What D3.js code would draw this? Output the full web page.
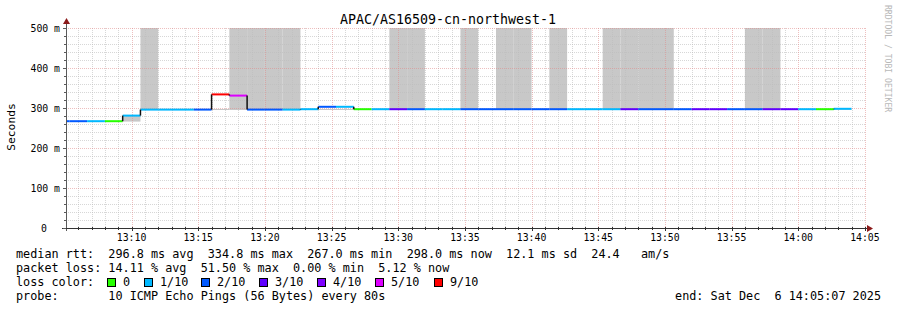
<!DOCTYPE html>
<html>
<head>
<meta charset="utf-8">
<script src="https://cdn.jsdelivr.net/npm/d3@7"></script>
<style>
  html, body { margin: 0; padding: 0; background: #fff; }
  svg text { font-family: "DejaVu Sans Mono", monospace; white-space: pre; }
</style>
</head>
<body>
<svg id="chart" width="897" height="310"></svg>
<script>
// chart data
const chartTitle = 'APAC/AS16509-cn-northwest-1';
const firstStep = '2025-12-06T13:04:00';
const stepSeconds = 80;

const medianMs = [
  267, 267, 267, 267, 281, 296, 296, 296, 296, 334, 331, 296, 296, 296, 297,
  303, 303, 297, 297, 297, 297, 297, 297, 297, 297, 297, 297, 297, 297, 297,
  297, 297, 297, 297, 297, 297, 297, 297, 297, 297, 297, 297, 297, 297, 298
];
const lossTenths = [
  2, 2, 1, 0, 1, 1, 1, 1, 2, 9, 5, 2, 2, 1, 1,
  2, 1, 0, 1, 3, 2, 1, 1, 2, 2, 2, 2, 2, 2, 1,
  1, 1, 3, 2, 2, 2, 3, 3, 2, 2, 3, 3, 1, 0, 1
];
const smokeLowMs = [
  266, 266, 266, 266, 266, 295, 295, 295, 295, 295, 295, 295, 295, 295, 295,
  295, 295, 295, 295, 295, 295, 295, 295, 295, 295, 295, 295, 295, 295, 295,
  295, 295, 295, 295, 295, 295, 295, 295, 295, 295, 295, 295, 295, 295, 295
];
const smokeHighMs = [
  267, 267, 267, 267, 281, 600, 297, 297, 297, 297.5, 600, 600, 600, 600, 297,
  297.5, 297.5, 297, 297, 600, 600, 297, 297, 600, 297, 600, 600, 297, 600, 297,
  297, 600, 600, 600, 600, 297, 297, 297, 297, 600, 600, 297, 297, 297, 297
];

const yTickValues = [0, 100, 200, 300, 400, 500];
const yTickLabels = ['0', '100 m', '200 m', '300 m', '400 m', '500 m'];
const xTickLabels = ['13:10', '13:15', '13:20', '13:25', '13:30', '13:35',
  '13:40', '13:45', '13:50', '13:55', '14:00', '14:05'];

const lossLevels = [0, 1, 2, 3, 4, 5, 9];
const lossLabels = ['0', '1/10', '2/10', '3/10', '4/10', '5/10', '9/10'];
const lossColors = ['#26ff00', '#00b8ff', '#0059ff', '#5e00ff', '#7e00ff', '#dd00ff', '#ff0000'];

const statLines = [
  'median rtt:  296.8 ms avg  334.8 ms max  267.0 ms min  298.0 ms now  12.1 ms sd  24.4   am/s',
  'packet loss: 14.11 % avg  51.50 % max  0.00 % min  5.12 % now',
  'loss color:',
  'probe:       10 ICMP Echo Pings (56 Bytes) every 80s'
];
const endLabel = 'end: Sat Dec  6 14:05:07 2025';

// layout
const width = 897, height = 310;
const plotLeft = 66, plotRight = 866, plotTop = 28, plotBottom = 228;

const svg = d3.select('#chart');

const x = d3.scaleTime()
  .domain([new Date('2025-12-06T13:05:05'), new Date('2025-12-06T14:05:05')])
  .range([plotLeft, plotRight]);
const y = d3.scaleLinear().domain([0, 500]).range([plotBottom, plotTop]);

const t0 = new Date(firstStep).getTime();
const steps = medianMs.map((m, i) => ({
  start: new Date(t0 + i * stepSeconds * 1000),
  end: new Date(t0 + (i + 1) * stepSeconds * 1000),
  median: m,
  loss: lossTenths[i],
  lo: smokeLowMs[i],
  hi: smokeHighMs[i]
}));

const lossColor = d3.scaleOrdinal().domain(lossLevels).range(lossColors);

svg.append('defs').append('clipPath').attr('id', 'plot')
  .append('rect')
  .attr('x', plotLeft).attr('y', plotTop)
  .attr('width', plotRight - plotLeft).attr('height', plotBottom - plotTop);

// Smoke
svg.append('g').attr('clip-path', 'url(#plot)')
  .selectAll('rect')
  .data(steps)
  .join('rect')
  .attr('x', d => x(d.start))
  .attr('width', d => x(d.end) - x(d.start))
  .attr('y', d => y(d.hi))
  .attr('height', d => y(d.lo) - y(d.hi))
  .attr('fill', '#c8c8c8');

// Grid
const grid = svg.append('g');
const minuteTicks = x.ticks(d3.timeMinute.every(1));
const isMajorTime = d => d.getMinutes() % 5 === 0;
const minorStroke = '#bdbdbd', minorOpacity = 0.6;
const majorStroke = '#e08a8a', majorOpacity = 0.55;

grid.selectAll('.vminor')
  .data(minuteTicks.filter(d => !isMajorTime(d)))
  .join('line')
  .attr('x1', d => Math.round(x(d)) + 0.5).attr('x2', d => Math.round(x(d)) + 0.5)
  .attr('y1', plotTop).attr('y2', plotBottom)
  .attr('stroke', minorStroke).attr('stroke-opacity', minorOpacity)
  .attr('stroke-dasharray', '1,1');

const yMinor = d3.range(20, 501, 20).filter(v => v % 100 !== 0);
grid.selectAll('.hminor')
  .data(yMinor)
  .join('line')
  .attr('x1', plotLeft).attr('x2', plotRight)
  .attr('y1', d => Math.round(y(d)) + 0.5).attr('y2', d => Math.round(y(d)) + 0.5)
  .attr('stroke', minorStroke).attr('stroke-opacity', minorOpacity)
  .attr('stroke-dasharray', '1,1');

grid.selectAll('.vmajor')
  .data(minuteTicks.filter(isMajorTime))
  .join('line')
  .attr('x1', d => Math.round(x(d)) + 0.5).attr('x2', d => Math.round(x(d)) + 0.5)
  .attr('y1', plotTop).attr('y2', plotBottom)
  .attr('stroke', majorStroke).attr('stroke-opacity', majorOpacity)
  .attr('stroke-dasharray', '1,1');

grid.selectAll('.hmajor')
  .data(yTickValues.filter(v => v > 0))
  .join('line')
  .attr('x1', plotLeft).attr('x2', plotRight)
  .attr('y1', d => Math.round(y(d)) + 0.5).attr('y2', d => Math.round(y(d)) + 0.5)
  .attr('stroke', majorStroke).attr('stroke-opacity', majorOpacity)
  .attr('stroke-dasharray', '1,1');

// Median line
const lines = svg.append('g').attr('clip-path', 'url(#plot)');
lines.selectAll('.step')
  .data(steps)
  .join('line')
  .attr('x1', d => x(d.start)).attr('x2', d => x(d.end))
  .attr('y1', d => y(d.median)).attr('y2', d => y(d.median))
  .attr('stroke', d => lossColor(d.loss))
  .attr('stroke-width', 2);

const jumps = [];
steps.forEach((d, i) => {
  if (i > 0 && d.median !== steps[i - 1].median) {
    jumps.push({ t: d.start, a: steps[i - 1].median, b: d.median });
  }
});
lines.selectAll('.jump')
  .data(jumps)
  .join('line')
  .attr('x1', d => x(d.t)).attr('x2', d => x(d.t))
  .attr('y1', d => y(d.a)).attr('y2', d => y(d.b))
  .attr('stroke', '#111')
  .attr('stroke-width', 1.5);

// Axes
const axes = svg.append('g');
axes.append('line')
  .attr('x1', plotLeft + 0.5).attr('x2', plotLeft + 0.5)
  .attr('y1', plotBottom + 3).attr('y2', plotTop - 6)
  .attr('stroke', '#5a5a5a');
axes.append('line')
  .attr('x1', plotLeft - 4).attr('x2', plotRight + 2)
  .attr('y1', plotBottom + 0.5).attr('y2', plotBottom + 0.5)
  .attr('stroke', '#333');
axes.append('path')
  .attr('d', `M${plotLeft - 3},${plotTop - 4} L${plotLeft + 4},${plotTop - 4} L${plotLeft + 0.5},${plotTop - 10} Z`)
  .attr('fill', '#8b1a1a');
axes.append('path')
  .attr('d', `M${plotRight + 1},${plotBottom - 3} L${plotRight + 1},${plotBottom + 4} L${plotRight + 7},${plotBottom + 0.5} Z`)
  .attr('fill', '#8b1a1a');

// y ticks
axes.selectAll('.ytick')
  .data(d3.range(0, 501, 20))
  .join('line')
  .attr('x1', d => d % 100 === 0 ? plotLeft - 3 : plotLeft - 2).attr('x2', plotLeft)
  .attr('y1', d => Math.round(y(d)) + 0.5).attr('y2', d => Math.round(y(d)) + 0.5)
  .attr('stroke', '#5a5a5a');

axes.selectAll('.xtick')
  .data(minuteTicks)
  .join('line')
  .attr('x1', d => Math.round(x(d)) + 0.5).attr('x2', d => Math.round(x(d)) + 0.5)
  .attr('y1', plotBottom - 1)
  .attr('y2', d => isMajorTime(d) ? plotBottom + 3 : plotBottom + 2)
  .attr('stroke', '#333');

// Axis labels
svg.selectAll('.ylabel')
  .data(yTickValues)
  .join('text')
  .attr('x', d => d === 0 ? 47 : 60)
  .attr('y', d => y(d) + 3.5)
  .attr('text-anchor', 'end')
  .attr('font-size', '9.8px')
  .attr('fill', '#000')
  .text((d, i) => yTickLabels[i]);

const parseHM = d3.timeParse('%Y-%m-%d %H:%M');
svg.selectAll('.xlabel')
  .data(xTickLabels)
  .join('text')
  .attr('x', d => x(parseHM('2025-12-06 ' + d)))
  .attr('y', 241)
  .attr('text-anchor', 'middle')
  .attr('font-size', '9.8px')
  .attr('fill', '#000')
  .text(d => d);

// Title
svg.append('text')
  .attr('x', width / 2 - 0.5).attr('y', 24)
  .attr('text-anchor', 'middle')
  .attr('font-size', '13.3px')
  .attr('fill', '#000')
  .text(chartTitle);

// Y-axis title
svg.append('text')
  .attr('transform', 'translate(15,127) rotate(-90)')
  .attr('text-anchor', 'middle')
  .attr('font-size', '11.3px')
  .attr('fill', '#000')
  .text('Seconds');

// Watermark
svg.append('text')
  .attr('transform', 'translate(885,5) rotate(90)')
  .attr('font-size', '8.1px')
  .attr('fill', '#b8b8b8')
  .text('RRDTOOL / TOBI OETIKER');

// Legend / stats
svg.selectAll('.stat')
  .data(statLines)
  .join('text')
  .attr('x', 16)
  .attr('y', (d, i) => 258 + i * 14)
  .attr('font-size', '11.8px')
  .attr('fill', '#000')
  .text(d => d);

const legendX = [123, 160, 217, 275, 333, 391, 450];
const legend = svg.selectAll('.loss')
  .data(lossLabels)
  .join('g');
legend.append('rect')
  .attr('x', (d, i) => legendX[i] - 15.5)
  .attr('y', 278.5)
  .attr('width', 8).attr('height', 8)
  .attr('fill', (d, i) => lossColor(lossLevels[i]))
  .attr('stroke', '#000');
legend.append('text')
  .attr('x', (d, i) => legendX[i])
  .attr('y', 286)
  .attr('font-size', '11.8px')
  .attr('fill', '#000')
  .text(d => d);

svg.append('text')
  .attr('x', 881).attr('y', 300)
  .attr('text-anchor', 'end')
  .attr('font-size', '11.8px')
  .attr('fill', '#000')
  .text(endLabel);
</script>
</body>
</html>
